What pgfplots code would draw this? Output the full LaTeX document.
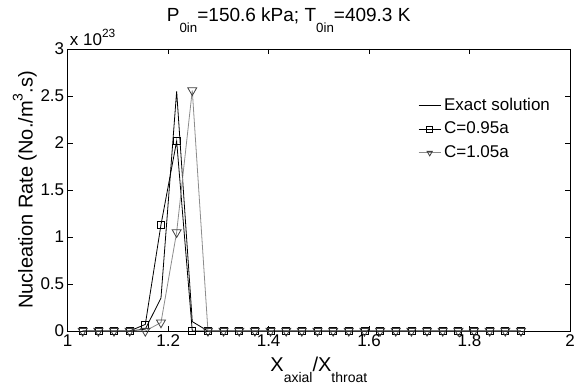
\documentclass[border=0pt]{standalone}
\usepackage{pgfplots}
\pgfplotsset{compat=1.18}
\usepackage{fontspec}
\setmainfont{Liberation Sans}
\newcommand{\sub}[1]{\raisebox{-0.55em}{\scalebox{0.7}{#1}}}
\newcommand{\super}[1]{\raisebox{0.5em}{\scalebox{0.7}{#1}}}
\definecolor{lgray}{gray}{0.55}
\definecolor{mgray}{gray}{0.25}
\begin{document}
\begin{tikzpicture}
\useasboundingbox (-67.7pt,-54pt) rectangle (507.3pt,331pt);
\begin{axis}[
  at={(0pt,0pt)}, anchor=south west,
  scale only axis, width=502.3pt, height=282pt,
  xmin=1, xmax=2, ymin=0, ymax=3,
  xtick={1,1.2,1.4,1.6,1.8,2},
  ytick={0,0.5,1,1.5,2,2.5,3},
  tick align=inside,
  major tick length=5pt,
  axis line style={line width=0.8pt},
  tick style={line width=0.6pt, black},
  clip=false,
  ticklabel style={font=\fontsize{17}{20}\selectfont},
  /pgf/number format/assume math mode=true,
  title={P\sub{0in}=150.6 kPa; T\sub{0in}=409.3 K},
  title style={at={(axis description cs:0.44,1)}, anchor=base, yshift=21pt, font=\fontsize{19}{22}\selectfont},
  xlabel={X\sub{axial}/X\sub{throat}},
  xlabel style={at={(axis description cs:0.5,-0.1443)}, anchor=base, font=\fontsize{20}{24}\selectfont},
  ylabel={Nucleation Rate (No./m\super{3}.s)},
  ylabel style={at={(axis description cs:-0.0697,0.5)}, anchor=base, font=\fontsize{20}{24}\selectfont},
  legend cell align=left,
  legend style={at={(axis description cs:0.698,0.8266)}, anchor=north west, draw=none, fill=none,
    inner sep=0pt, outer sep=0pt, row sep=7.5pt, column sep=3pt,
    font=\fontsize{17}{20}\selectfont,
    nodes={inner sep=0pt, text height=12.2pt, text depth=3.8pt}},
  legend image code/.code={\draw[mark repeat=2,mark phase=2,mark size=3pt] plot coordinates {(0pt,0pt)(11pt,0pt)(22pt,0pt)};},
]
\addplot[black, line width=0.8pt, no markers] table {
x y
1.0299 0
1.0611 0
1.0922 0
1.1234 0
1.1545 0.02
1.1857 0.35
1.2169 2.55
1.2480 0.10
1.2792 0
1.3103 0
1.3415 0
1.3727 0
1.4038 0
1.4350 0
1.4661 0
1.4973 0
1.5285 0
1.5596 0
1.5908 0
1.6219 0
1.6531 0
1.6843 0
1.7154 0
1.7466 0
1.7777 0
1.8089 0
1.8401 0
1.8712 0
1.9024 0
};
\addlegendentry{Exact solution}
\addplot[black, line width=0.8pt, mark=square, mark size=3.5pt, mark options={solid, line width=0.7pt}] table {
x y
1.0299 0
1.0611 0
1.0922 0
1.1234 0
1.1545 0.07
1.1857 1.13
1.2169 2.02
1.2480 0
1.2792 0
1.3103 0
1.3415 0
1.3727 0
1.4038 0
1.4350 0
1.4661 0
1.4973 0
1.5285 0
1.5596 0
1.5908 0
1.6219 0
1.6531 0
1.6843 0
1.7154 0
1.7466 0
1.7777 0
1.8089 0
1.8401 0
1.8712 0
1.9024 0
};
\addlegendentry{C=0.95a}
\addplot[lgray, line width=0.8pt, mark=triangle, mark size=5.2pt, mark options={solid, rotate=180, line width=0.8pt, draw=mgray}] table {
x y
1.0299 0
1.0611 0
1.0922 0
1.1234 0
1.1545 0
1.1857 0.09
1.2169 1.05
1.2480 2.56
1.2792 0
1.3103 0
1.3415 0
1.3727 0
1.4038 0
1.4350 0
1.4661 0
1.4973 0
1.5285 0
1.5596 0
1.5908 0
1.6219 0
1.6531 0
1.6843 0
1.7154 0
1.7466 0
1.7777 0
1.8089 0
1.8401 0
1.8712 0
1.9024 0
};
\addlegendentry{C=1.05a}
\node[anchor=base west, inner sep=0pt, font=\fontsize{17}{20}\selectfont] at (axis description cs:0,1) [xshift=2pt, yshift=3pt] {x 10\super{23}};
\end{axis}
\end{tikzpicture}
\end{document}
